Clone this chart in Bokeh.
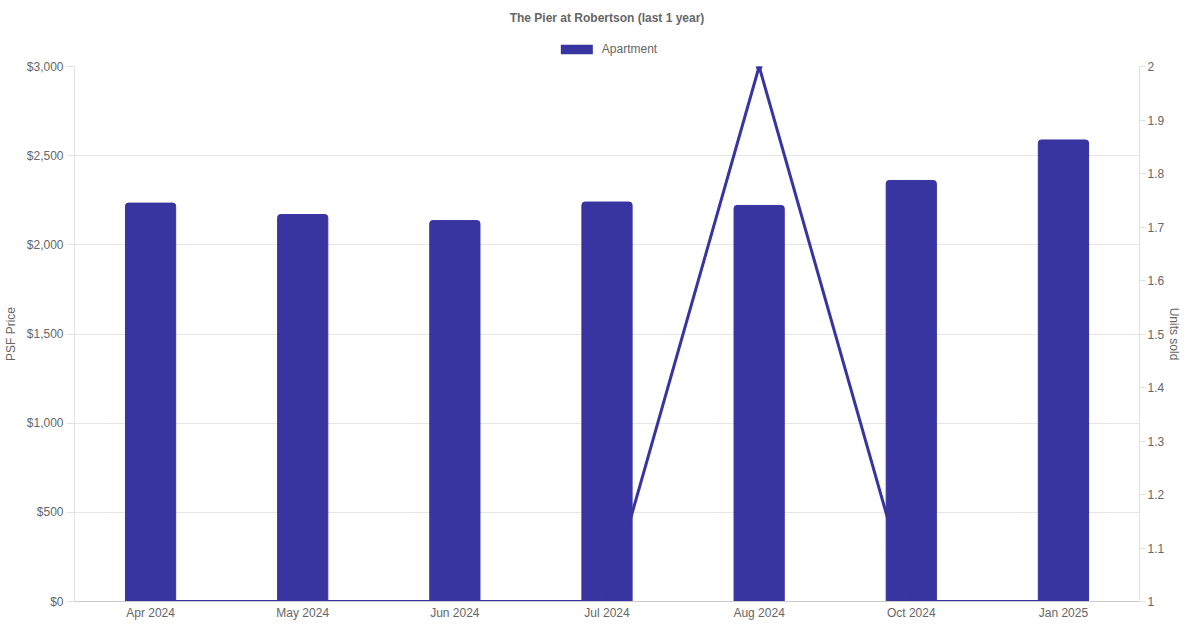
from bokeh.plotting import figure
from bokeh.layouts import column
from bokeh.models import (Range1d, FactorRange, LinearAxis, FixedTicker, NumeralTickFormatter,
                          Legend, LegendItem, Title, ColumnDataSource)
from bokeh.embed import file_html
from bokeh.resources import INLINE

months = ["Apr 2024", "May 2024", "Jun 2024", "Jul 2024", "Aug 2024", "Oct 2024", "Jan 2025"]
psf_price = [2234, 2170, 2136, 2240, 2221, 2361, 2588]
units_sold = [1, 1, 1, 1, 2, 1, 1]

BAR = "#3834a0"
TXT = "#666666"
FONT = "Liberation Sans"
W = 1184

src = ColumnDataSource(dict(month=months, psf=psf_price, units=units_sold))

# ---- header: title + legend ----
head = figure(width=W, height=56, x_range=Range1d(0, 1), y_range=Range1d(0, 1),
              x_axis_type=None, y_axis_type=None, output_backend="svg", toolbar_location=None,
              min_border_left=0, min_border_right=0, min_border_top=24, min_border_bottom=0)
head.outline_line_color = None
head.xgrid.grid_line_color = None
head.ygrid.grid_line_color = None
head.title = Title(text="The Pier at Robertson (last 1 year)", align="center",
                   vertical_align="bottom",
                   text_font=FONT, text_font_size="12px", text_font_style="bold",
                   text_color=TXT, offset=0, standoff=0)
# legend key only: a zero-size swatch renderer (draws nothing itself)
key = head.vbar(x=[0.5], bottom=[0.5], top=[0.5], width=0, fill_color=BAR, line_color=None)
legend = Legend(items=[LegendItem(label="Apartment", renderers=[key])],
                orientation="horizontal", location="bottom_center",
                glyph_width=40, glyph_height=12, label_text_font=FONT,
                label_text_font_size="12px", label_text_color=TXT,
                border_line_color=None, background_fill_alpha=0,
                padding=0, margin=0, label_standoff=6)
head.add_layout(legend, "center")

# ---- main chart ----
p = figure(width=W, height=566, x_range=FactorRange(*months), y_range=Range1d(0, 3000),
           output_backend="svg", toolbar_location=None,
           min_border_left=66, min_border_right=45, min_border_top=10, min_border_bottom=21)
p.outline_line_color = None
p.background_fill_color = "white"
p.border_fill_color = "white"

p.extra_y_ranges = {"units": Range1d(1, 2)}

p.vbar(x="month", top="psf", width=0.33, source=src, fill_color=BAR, line_color=BAR,
       border_radius=(3, 3, 0, 0))
p.line(x="month", y="units", source=src, y_range_name="units", line_color=BAR, line_width=3)
p.scatter(x="month", y="units", source=src, y_range_name="units", size=6,
          fill_color=BAR, line_color=BAR)

ya = p.yaxis[0]
ya.ticker = FixedTicker(ticks=[0, 500, 1000, 1500, 2000, 2500, 3000])
ya.formatter = NumeralTickFormatter(format="$0,0")
ya.axis_label = "PSF Price"

ra = LinearAxis(y_range_name="units", axis_label="Units sold")
ra.ticker = FixedTicker(ticks=[1 + i / 10 for i in range(11)])
ra.formatter = NumeralTickFormatter(format="0.[0]")
p.add_layout(ra, "right")

for ax in [ya, ra]:
    ax.axis_line_color = "#e2e2e2"
    ax.major_tick_line_color = "#e2e2e2"
    ax.major_tick_out = 8
    ax.major_tick_in = 0
    ax.minor_tick_line_color = None
    ax.major_label_text_font = FONT
    ax.major_label_text_font_size = "12px"
    ax.major_label_text_color = TXT
    ax.major_label_standoff = 3
    ax.axis_label_text_font = FONT
    ax.axis_label_text_font_size = "12px"
    ax.axis_label_text_font_style = "normal"
    ax.axis_label_text_color = TXT
    ax.axis_label_standoff = 6
ra.major_tick_out = 6
ra.major_label_standoff = 2
ra.axis_label_standoff = 0

xa = p.xaxis[0]
xa.axis_line_color = "#cccccc"
xa.major_tick_line_color = None
xa.major_tick_out = 0
xa.major_tick_in = 0
xa.minor_tick_line_color = None
xa.major_label_text_font = FONT
xa.major_label_text_font_size = "12px"
xa.major_label_text_color = TXT
xa.major_label_standoff = 4

p.xgrid.grid_line_color = None
p.ygrid.grid_line_color = "#e6e6e6"

layout = column(head, p, spacing=0)
open("out.html", "w").write(file_html(layout, INLINE))
